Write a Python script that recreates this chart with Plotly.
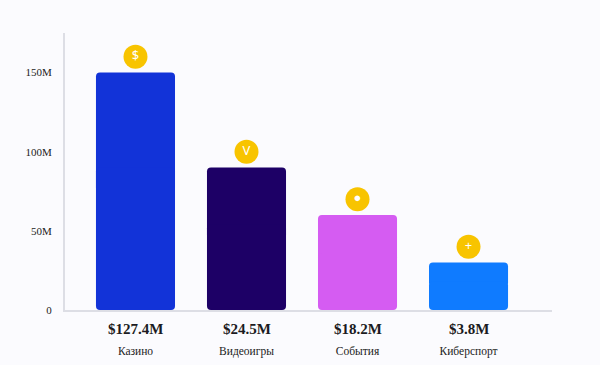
import plotly.graph_objects as go

categories = ["Казино", "Видеоигры", "События", "Киберспорт"]
bar_heights = [150, 90, 60, 30]
value_labels = ["$127.4M", "$24.5M", "$18.2M", "$3.8M"]
icons = ["$", "V", "●", "+"]
colors = ["#1233D8", "#1D0066", "#D55CF2", "#0F7BFF"]
y_ticks = [0, 50, 100, 150]
y_tick_labels = ["0", "50M", "100M", "150M"]

icon_gap = 10
SERIF = "Liberation Serif, Georgia, serif"
INK = "#1B1B22"

fig = go.Figure()
# Upper half rounds the top corners, lower half rounds the bottom corners.
fig.add_bar(x=categories, y=[v * 0.5 for v in bar_heights], base=[v * 0.5 for v in bar_heights],
            marker=dict(color=colors, line=dict(width=0)), width=0.712, hoverinfo="skip")
fig.add_bar(x=categories, y=[-v * 0.6 for v in bar_heights], base=[v * 0.6 for v in bar_heights],
            marker=dict(color=colors, line=dict(width=0)), width=0.712, hoverinfo="skip")
fig.add_scatter(x=categories, y=[v + icon_gap for v in bar_heights], mode="markers+text",
                marker=dict(size=24, color="#F8C400", line=dict(width=0)),
                text=icons, textposition="middle center",
                textfont=dict(family="Noto Sans, sans-serif", size=13, color="white"),
                hoverinfo="skip", cliponaxis=False)

for c, lab in zip(categories, value_labels):
    fig.add_annotation(x=c, y=0, xref="x", yref="paper", yanchor="top", yshift=-9,
                       text=f"<b>{lab}</b>", showarrow=False,
                       font=dict(family=SERIF, size=15, color=INK))

fig.update_layout(
    width=600, height=365, margin=dict(l=65, r=48, t=33, b=55, autoexpand=False),
    paper_bgcolor="#FBFBFE", plot_bgcolor="#FBFBFE",
    showlegend=False, barmode="overlay", barcornerradius=4,
    xaxis=dict(type="category", range=[-0.635, 3.752], showgrid=False, zeroline=False,
               showline=True, linecolor="#DDDEE5", linewidth=2, ticks="",
               tickfont=dict(family=SERIF, size=11.5, color=INK), ticklabelstandoff=29),
    yaxis=dict(range=[0, 175], tickvals=y_ticks, ticktext=y_tick_labels, showgrid=False,
               zeroline=False, showline=True, linecolor="#DDDEE5", linewidth=2, ticks="",
               tickfont=dict(family=SERIF, size=11, color=INK), ticklabelstandoff=9),
)
fig.write_html("out.html", config={"displayModeBar": False},
               post_script="document.body.style.margin='0';document.body.style.background='#FBFBFE';")
